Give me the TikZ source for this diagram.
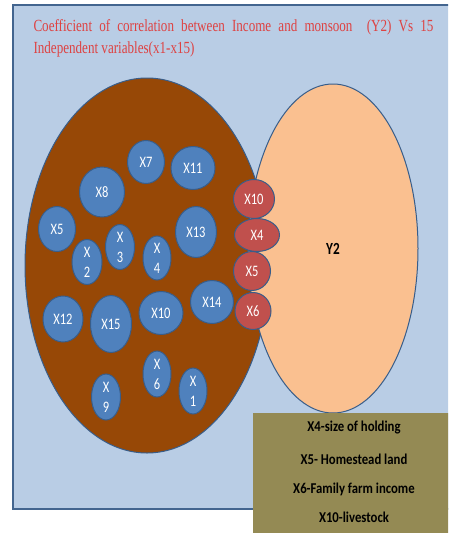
\documentclass[tikz,border=0pt]{standalone}
\usepackage{fontspec}
\setmainfont{Liberation Serif}
\setsansfont{Carlito}
\newfontfamily\headfont[FakeStretch = 0.77]{Liberation Serif}
\newfontfamily\ovalfont[FakeStretch = 0.78]{Carlito}
\newfontfamily\keyfont[FakeStretch = 0.85]{Carlito}
\usetikzlibrary{shapes.geometric}

\definecolor{paneblue}{HTML}{B9CDE5}
\definecolor{paneedge}{HTML}{43658F}
\definecolor{outline}{HTML}{385D8A}
\definecolor{soilbrown}{HTML}{974806}
\definecolor{peach}{HTML}{FAC090}
\definecolor{varblue}{HTML}{4F81BD}
\definecolor{sigred}{HTML}{C0504D}
\definecolor{olive}{HTML}{948A54}
\definecolor{titlered}{HTML}{DE4242}

\begin{document}
\begin{tikzpicture}[x = 1pt, y = -1pt, line width = 1pt,
                        bigoval/.style = {ellipse, draw = outline, inner sep = 0pt},
                        var/.style = {ellipse, draw = outline, fill = varblue, text = white, inner sep = 0pt,
                                      align = center, font = \ovalfont\fontsize{16}{20}\selectfont},
                        sig/.style = {ellipse, draw = outline, fill = sigred, text = white, inner sep = 0pt,
                                      font = \ovalfont\fontsize{16}{20}\selectfont},
                        head/.style = {anchor = base west, text = titlered, inner sep = 0pt,
                                       font = \headfont\fontsize{17}{20}\selectfont},
                        key/.style = {font = \keyfont\bfseries\fontsize{15}{18}\selectfont}]
      \useasboundingbox (0, 0) rectangle (448, 533);
      \clip (0, 0) rectangle (448, 533);
      \draw [fill = paneblue, draw = paneedge, line width = 1.5pt] (13, 5) rectangle (460, 509);
      \node [head] (t1) at (33, 31)
            {\makebox[400pt][s]{Coefficient of correlation between Income and monsoon \ (Y2) Vs 15}};
      \node [head] (t2) at (33, 53) {Independent variables(x1-x15)};
      \node [bigoval, fill = soilbrown, minimum width = 244pt, minimum height = 375pt] (src) at (147, 265.5) {};
      \node [bigoval, fill = peach, minimum width = 170pt, minimum height = 329pt,
             font = \ovalfont\bfseries\fontsize{17}{20}\selectfont] (y2) at (333, 248.5) {Y2};
      \node [var, minimum width = 37pt, minimum height = 43pt] (x7) at (146, 162) {X7};
      \node [var, minimum width = 44pt, minimum height = 43pt] (x11) at (193, 168) {X11};
      \node [var, minimum width = 45pt, minimum height = 50pt] (x8) at (102, 192) {X8};
      \node [var, minimum width = 37pt, minimum height = 45pt] (x5) at (57, 229) {X5};
      \node [var, minimum width = 30pt, minimum height = 45pt] (x2) at (87, 262) {X\\2};
      \node [var, minimum width = 29pt, minimum height = 45pt] (x3) at (120, 247) {X\\3};
      \node [var, minimum width = 28pt, minimum height = 44pt] (x4) at (157, 258) {X\\4};
      \node [var, minimum width = 41pt, minimum height = 51pt] (x13) at (196, 232) {X13};
      \node [var, minimum width = 40pt, minimum height = 46pt] (x12) at (63, 319) {X12};
      \node [var, minimum width = 41pt, minimum height = 57pt] (x15) at (111, 324) {X15};
      \node [var, minimum width = 44pt, minimum height = 43pt] (x10) at (161, 313) {X10};
      \node [var, minimum width = 43pt, minimum height = 43pt] (x14) at (212, 302) {X14};
      \node [var, minimum width = 28pt, minimum height = 46pt] (x6) at (157, 374) {X\\6};
      \node [var, minimum width = 29pt, minimum height = 46pt] (x9) at (106, 397) {X\\9};
      \node [var, minimum width = 28pt, minimum height = 46pt] (x1) at (193, 391) {X\\1};
      \node [sig, minimum width = 41pt, minimum height = 39pt] (r10) at (254, 199) {X10};
      \node [sig, minimum width = 45pt, minimum height = 33pt] (r4) at (257, 235) {X4};
      \node [sig, minimum width = 37pt, minimum height = 39pt] (r5) at (252, 271) {X5};
      \node [sig, minimum width = 36pt, minimum height = 37pt] (r6) at (253, 311) {X6};
      \fill [olive] (253, 413) rectangle (460, 540);
      \node [key] (k1) at (354, 428) {X4-size of holding};
      \node [key] (k2) at (354, 459) {X5- Homestead land};
      \node [key] (k3) at (354, 489) {X6-Family farm income};
      \node [key] (k4) at (354, 517) {X10-livestock};
    \end{tikzpicture}
\end{document}
